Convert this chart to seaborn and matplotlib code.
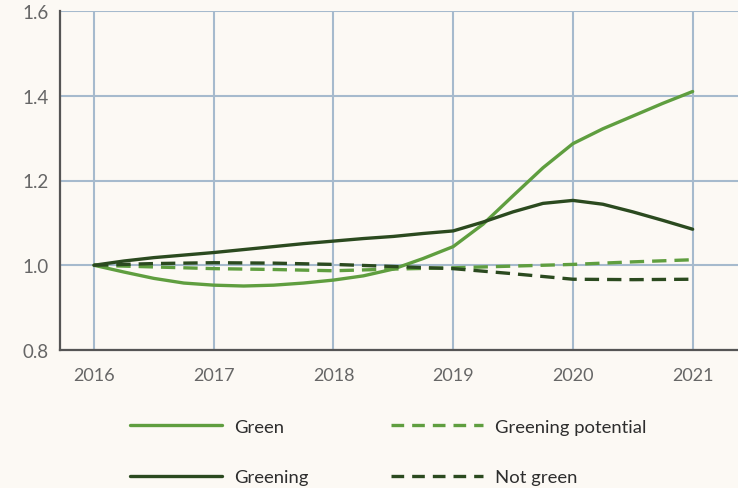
import numpy as np
import pandas as pd
import matplotlib
matplotlib.use("Agg")
import matplotlib.pyplot as plt
import seaborn as sns
from matplotlib.lines import Line2D

# ---- data ----
years_q = [2016, 2016.25, 2016.5, 2016.75, 2017, 2017.25, 2017.5, 2017.75, 2018,
           2018.25, 2018.5, 2018.75, 2019, 2019.25, 2019.5, 2019.75, 2020,
           2020.25, 2020.5, 2020.75, 2021]
green = [1.000, 0.984, 0.969, 0.958, 0.953, 0.951, 0.953, 0.958, 0.965,
         0.975, 0.991, 1.016, 1.044, 1.097, 1.164, 1.230, 1.287,
         1.322, 1.352, 1.382, 1.410]
greening = [1.000, 1.010, 1.018, 1.024, 1.030, 1.037, 1.044, 1.051, 1.057,
            1.063, 1.068, 1.075, 1.081, 1.102, 1.126, 1.146, 1.153,
            1.144, 1.126, 1.106, 1.085]
years_h = [2016, 2016.5, 2017, 2017.5, 2018, 2018.5, 2019, 2019.5, 2020, 2020.5, 2021]
greening_potential = [1.000, 0.996, 0.992, 0.990, 0.987, 0.991, 0.994, 0.998, 1.002, 1.008, 1.013]
not_green = [1.000, 1.004, 1.006, 1.005, 1.002, 0.997, 0.992, 0.980, 0.967, 0.966, 0.967]
series_names = ["Green", "Greening", "Greening potential", "Not green"]
xtick_years = [2016, 2017, 2018, 2019, 2020, 2021]
ytick_vals = [0.8, 1.0, 1.2, 1.4, 1.6]

LIGHT = "#5f9e3f"
DARK = "#2b4a1f"
BG = "#fcf9f4"
GRID = "#a6bacd"
TXT = "#666666"

sns.set_theme(style="white")
plt.rcParams["font.family"] = ["Lato", "DejaVu Sans"]

df = pd.concat([
    pd.DataFrame({"year": years_q, "value": green, "series": "Green"}),
    pd.DataFrame({"year": years_q, "value": greening, "series": "Greening"}),
    pd.DataFrame({"year": years_h, "value": greening_potential, "series": "Greening potential"}),
    pd.DataFrame({"year": years_h, "value": not_green, "series": "Not green"}),
], ignore_index=True)

fig = plt.figure(figsize=(7.38, 4.89), dpi=100, facecolor=BG)
ax = fig.add_axes([60 / 738, 1 - 351 / 489, 1 - 60 / 738 + 0.001, (351 - 12) / 489])
ax.set_facecolor(BG)

palette = {"Green": LIGHT, "Greening": DARK, "Greening potential": LIGHT, "Not green": DARK}
DASH = (4.3, 2.4)
dashes = {"Green": "", "Greening": "", "Greening potential": DASH, "Not green": DASH}

sns.lineplot(data=df, x="year", y="value", hue="series", style="series",
             palette=palette, dashes=dashes, linewidth=2.4, ax=ax, legend=False,
             hue_order=series_names, style_order=series_names)
for ln in ax.get_lines():
    ln.set_solid_joinstyle("round")
    ln.set_dash_joinstyle("round")

ax.set_xlim(2015.716, 2021.385)
ax.set_ylim(0.8, 1.6)
ax.set_xticks(xtick_years)
ax.set_xticklabels([str(y) for y in xtick_years])
ax.set_yticks(ytick_vals)
ax.set_yticklabels([f"{v:.1f}" for v in ytick_vals])
ax.grid(True, color=GRID, linewidth=1.5)
ax.set_axisbelow(True)
ax.set_xlabel("")
ax.set_ylabel("")
for s in ["top", "right"]:
    ax.spines[s].set_visible(False)
for s in ["left", "bottom"]:
    ax.spines[s].set_color("#555555")
    ax.spines[s].set_linewidth(1.6)
ax.tick_params(axis="x", length=0, pad=12, labelsize=13, labelcolor=TXT)
ax.tick_params(axis="y", length=0, pad=8, labelsize=13.5, labelcolor=TXT)

handles = [
    Line2D([], [], color=LIGHT, lw=2.4),
    Line2D([], [], color=DARK, lw=2.4),
    Line2D([], [], color=LIGHT, lw=2.4, dashes=(3.8, 2.4)),
    Line2D([], [], color=DARK, lw=2.4, dashes=(3.8, 2.4)),
]
fig.legend(handles, series_names, ncol=2, frameon=False,
           loc="center left", bbox_to_anchor=(130 / 738, 1 - 453 / 489),
           bbox_transform=fig.transFigure, borderpad=0, borderaxespad=0,
           handlelength=5.0, handletextpad=0.65, columnspacing=4.45,
           labelspacing=1.85, fontsize=13.3, labelcolor="#2e2e2e")

fig.savefig("out.png", dpi=100, facecolor=BG)
